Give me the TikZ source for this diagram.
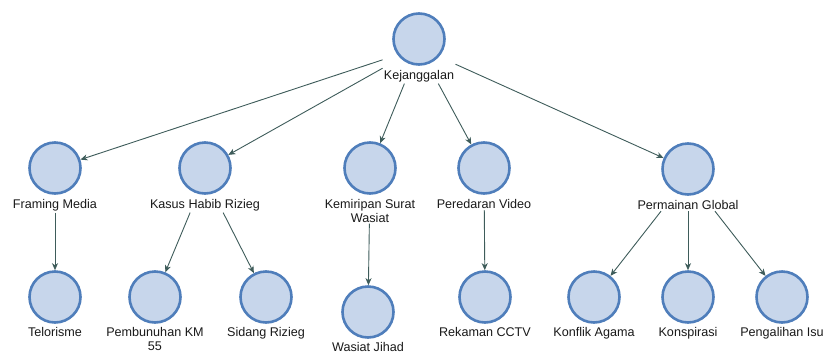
\documentclass[tikz,border=0pt]{standalone}
\usepackage{fontspec}
\setmainfont{Liberation Sans}
\usetikzlibrary{positioning,fit,arrows.meta}

\definecolor{nodeblue}{RGB}{79,126,187}
\definecolor{nodefill}{RGB}{199,214,235}
\definecolor{edgecol}{RGB}{62,92,90}

\begin{document}
\begin{tikzpicture}[x=1pt,y=-1pt,>={Stealth[length=7pt,width=6pt,inset=2pt]}]
        \useasboundingbox (0,0) rectangle (825,354);

        \begin{scope}[every node/.style={circle,draw=nodeblue,fill=nodefill,line width=2.6pt,minimum size=51pt,inner sep=0pt}]
          \node (kej)  at (419,39)  {};
          \node (fm)   at (55,168)  {};
          \node (khr)  at (205,168) {};
          \node (ksw)  at (370,168) {};
          \node (pv)   at (484,168) {};
          \node (pg)   at (688,169) {};
          \node (tel)  at (55,297)  {};
          \node (pkm)  at (155,297) {};
          \node (sr)   at (266,297) {};
          \node (wj)   at (368,312) {};
          \node (rc)   at (485,297) {};
          \node (ka)   at (594,297) {};
          \node (kon)  at (688,297) {};
          \node (pi)   at (782,297) {};
        \end{scope}

        \begin{scope}[every node/.style={align=center,inner sep=1pt,font=\fontsize{12.6}{13.5}\selectfont,text=black!90}]
          \node[below=3.5pt of kej] (kej-t) {Kejanggalan};
          \node[below=3.5pt of fm]  (fm-t)  {Framing Media};
          \node[below=3.5pt of khr] (khr-t) {Kasus Habib Rizieg};
          \node[below=3.5pt of ksw] (ksw-t) {Kemiripan Surat\\Wasiat};
          \node[below=3.5pt of pv]  (pv-t)  {Peredaran Video};
          \node[below=3.5pt of pg]  (pg-t)  {Permainan Global};
          \node[below=2.5pt of tel] (tel-t) {Telorisme};
          \node[below=2.5pt of pkm] (pkm-t) {Pembunuhan KM\\55};
          \node[below=2.5pt of sr]  (sr-t)  {Sidang Rizieg};
          \node[below=2.5pt of wj]  (wj-t)  {Wasiat Jihad};
          \node[below=2.5pt of rc]  (rc-t)  {Rekaman CCTV};
          \node[below=2.5pt of ka]  (ka-t)  {Konflik Agama};
          \node[below=2.5pt of kon] (kon-t) {Konspirasi};
          \node[below=2.5pt of pi]  (pi-t)  {Pengalihan Isu};
        \end{scope}

        \begin{scope}[every node/.style={inner sep=0pt}]
          \node[fit=(kej)(kej-t)] (kej-b) {};
          \node[fit=(fm)(fm-t)]   (fm-b)  {};
          \node[fit=(khr)(khr-t)] (khr-b) {};
          \node[fit=(ksw)(ksw-t)] (ksw-b) {};
          \node[fit=(pv)(pv-t)]   (pv-b)  {};
          \node[fit=(pg)(pg-t)]   (pg-b)  {};
        \end{scope}

        \begin{scope}[every edge/.style={draw=edgecol,line width=0.9pt,->}]
          \path (kej-b) edge (fm);
          \path (kej-b) edge (khr);
          \path (kej-b) edge (ksw);
          \path (kej-b) edge (pv);
          \path (kej-b) edge (pg);
          \path (fm-b)  edge (tel);
          \path (khr-b) edge (pkm);
          \path (khr-b) edge (sr);
          \path (ksw-b) edge (wj);
          \path (pv-b)  edge (rc);
          \path (pg-b)  edge (ka);
          \path (pg-b)  edge (kon);
          \path (pg-b)  edge (pi);
        \end{scope}

      \end{tikzpicture}
\end{document}
